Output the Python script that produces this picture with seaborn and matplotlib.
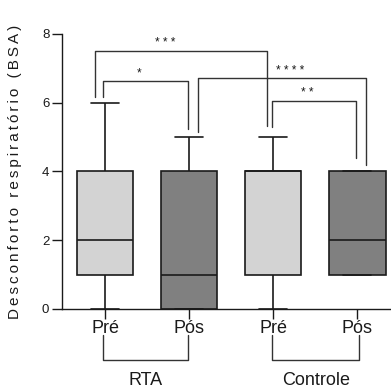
import matplotlib
matplotlib.use("Agg")
import matplotlib.pyplot as plt
import seaborn as sns
import pandas as pd

# ---- data ----
tick_labels = ["Pré", "Pós", "Pré", "Pós"]
group_names = ["RTA", "Controle"]
rta_pre = [0, 1, 1, 2, 2, 3, 4, 4, 6]
rta_pos = [0, 0, 0, 1, 1, 2, 4, 4, 5]
ctl_pre = [0, 1, 1, 3, 4, 4, 4, 4, 5]
ctl_pos = [1, 1, 1, 2, 2, 3, 4, 4, 4]
keys = ["RTA Pré", "RTA Pós", "Controle Pré", "Controle Pós"]
box_colors = ["#d3d3d3", "#808080", "#d3d3d3", "#808080"]

# significance comparisons
sig_left = [-0.12, -0.03, 1.10, 1.99]
sig_right = [1.92, 0.99, 3.10, 2.98]
sig_height = [7.50, 6.64, 6.71, 6.06]
sig_lbottom = [6.16, 6.17, 5.14, 5.30]
sig_rbottom = [5.32, 5.24, 4.19, 4.38]
sig_textx = [0.71, 0.40, 2.20, 2.40]
sig_text = ["* * *", "*", "* * * *", "* *"]

ylabel = "Desconforto respiratório (BSA)"

rows = []
for k, vals in zip(keys, [rta_pre, rta_pos, ctl_pre, ctl_pos]):
    for v in vals:
        rows.append({"grp": k, "val": v})
df = pd.DataFrame(rows)

sns.set_style("ticks")
plt.rcParams["font.family"] = ["Liberation Sans", "DejaVu Sans"]
ink = "#1a1a1a"

fig = plt.figure(figsize=(3.91, 3.89), dpi=100)
ax = fig.add_axes([0.158, 0.2057, 0.842, 0.7069])

sns.boxplot(data=df, x="grp", y="val", hue="grp", order=keys, hue_order=keys,
            palette=dict(zip(keys, box_colors)), width=0.67, whis=(0, 100),
            linecolor=ink, linewidth=1.2, legend=False, ax=ax)

ax.set_ylim(0, 8)
ax.set_xlim(-0.515, 3.40)
ax.set_yticks([0, 2, 4, 6, 8])
ax.set_xticks(range(4))
ax.set_xticklabels(tick_labels, fontsize=13, color=ink)
ax.tick_params(axis="y", labelsize=9.5, length=7, width=1, colors=ink, pad=2)
ax.tick_params(axis="x", length=7, width=1, colors=ink, pad=1)
ax.set_xlabel("")
sp = "\u2009"
spaced = (sp + " " + sp).join(sp.join(w) for w in ylabel.split(" "))
ax.set_ylabel(spaced, fontsize=11, color=ink, labelpad=14)
for s in ["top", "right"]:
    ax.spines[s].set_visible(False)
for s in ["left", "bottom"]:
    ax.spines[s].set_linewidth(1)
    ax.spines[s].set_color(ink)

# significance brackets
for xl, xr, h, lb, rb, tx, t in zip(sig_left, sig_right, sig_height, sig_lbottom,
                                    sig_rbottom, sig_textx, sig_text):
    ax.plot([xl, xl, xr, xr], [lb, h, h, rb], color="#333333", lw=1.0, clip_on=False)
    ax.text(tx, h + 0.05, t, ha="center", va="bottom", fontsize=8.5, color=ink)

# group brackets below the tick labels
grp_left = [-0.03, 1.99]
grp_right = [0.99, 3.02]
for xl, xr, name in zip(grp_left, grp_right, group_names):
    ax.plot([xl, xl, xr, xr], [-0.76, -1.48, -1.48, -0.76], color="#333333",
            lw=1.0, clip_on=False)
    ax.text((xl + xr) / 2, -2.07, name, ha="center", va="center", fontsize=13,
            color=ink, clip_on=False)

fig.savefig("out.png", dpi=100)
